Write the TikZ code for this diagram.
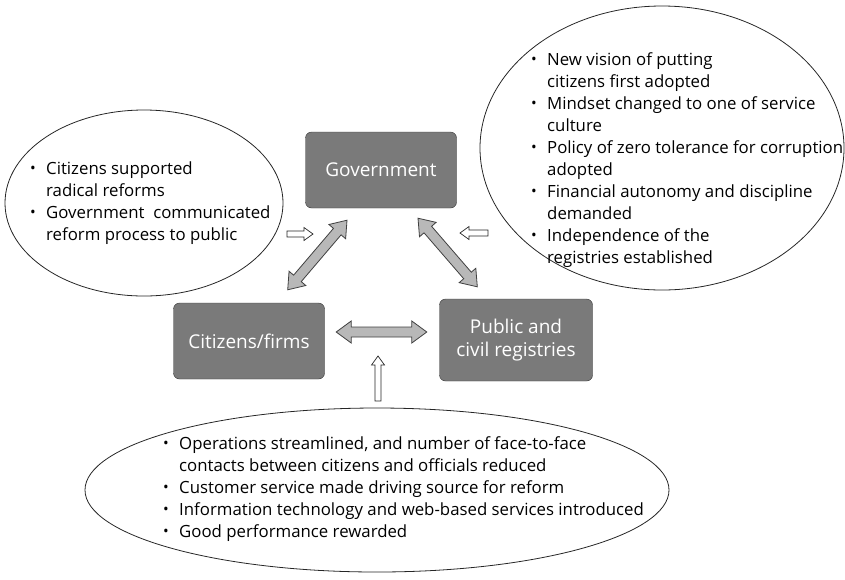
\documentclass[tikz,border=0pt]{standalone}
\usepackage{fontspec}
\setmainfont{Open Sans}
\usetikzlibrary{calc,shapes.geometric}
\tikzset{agent/.style={draw=black!80, fill=black!52, rounded corners=6pt, text=white,
    align=center, font=\fontsize{19}{23}\selectfont,
    minimum width=151pt, minimum height=76pt, inner sep=0pt},
  bubble/.style={draw=black!85, line width=0.8pt, ellipse, inner sep=0pt},
  notes/.style={align=left, anchor=west, inner sep=0pt, font=\fontsize{16.8}{22}\selectfont},
  twoway/.style={draw=black!75, fill=black!28, line width=0.8pt},
  oneway/.style={draw=black!85, fill=white, line width=0.7pt}}
\newcommand*{\bul}{\makebox[16pt][l]{\raisebox{0.5pt}{\scalebox{0.9}{\textbullet}}}}
\newcommand*{\ind}{\hspace*{16pt}}
\newcommand*{\biarrow}[2]{%
  \coordinate (#1h) at ($(#1)!15pt!(#2)$);
  \coordinate (#2h) at ($(#2)!15pt!(#1)$);
  \filldraw[twoway] (#1) -- ($(#1h)!11pt!90:(#2)$) -- ($(#1h)!5pt!90:(#2)$)
    -- ($(#2h)!5pt!-90:(#1)$) -- ($(#2h)!11pt!-90:(#1)$) -- (#2)
    -- ($(#2h)!11pt!90:(#1)$) -- ($(#2h)!5pt!90:(#1)$)
    -- ($(#1h)!5pt!-90:(#2)$) -- ($(#1h)!11pt!-90:(#2)$) -- cycle;}
\newcommand*{\hollowarrow}[2]{%
  \coordinate (#2h) at ($(#2)!9pt!(#1)$);
  \filldraw[oneway] ($(#1)!3pt!90:(#2)$) -- ($(#2h)!3pt!-90:(#1)$)
    -- ($(#2h)!6.5pt!-90:(#1)$) -- (#2) -- ($(#2h)!6.5pt!90:(#1)$)
    -- ($(#2h)!3pt!90:(#1)$) -- ($(#1)!3pt!-90:(#2)$) -- cycle;}

\begin{document}
\begin{tikzpicture}[x=1pt,y=-1pt]
\useasboundingbox (0,0) rectangle (845,579);
\node[agent] (gov) at (381,170) {Government};
\node[agent] (cit) at (249,341) {Citizens/firms};
\node[agent, minimum width=153pt, minimum height=82pt] (pub) at (516,340) {Public and\\civil registries};

\node[bubble, minimum width=278pt, minimum height=186pt] (lbub) at (144,203) {};
\node[bubble, minimum width=364pt, minimum height=284pt] (rbub) at (662,148) {};
\node[bubble, minimum width=584pt, minimum height=164pt] (bbub) at (377,490) {};

\node[notes] (lnote) at (30,203) {\bul Citizens supported\\\ind radical reforms\\
  \bul Government\ \ communicated\\\ind reform process to public};
\node[notes] (rnote) at (531,160) {\bul New vision of putting\\\ind citizens first adopted\\
  \bul Mindset changed to one of service\\\ind culture\\
  \bul Policy of zero tolerance for corruption\\\ind adopted\\
  \bul Financial autonomy and discipline\\\ind demanded\\
  \bul Independence of the\\\ind registries established};
\node[notes] (bnote) at (163,489) {\bul Operations streamlined, and number of face-to-face\\
  \ind contacts between citizens and officials reduced\\
  \bul Customer service made driving source for reform\\
  \bul Information technology and web-based services introduced\\
  \bul Good performance rewarded};

\coordinate (gc1) at ([shift={(-34,12)}]gov.south);
\coordinate (gc2) at ([shift={(-37,-13)}]cit.north east);
\coordinate (gp1) at ([shift={(37,10)}]gov.south);
\coordinate (gp2) at ([shift={(38,-12)}]pub.north west);
\coordinate (cp1) at ([shift={(11.5,-9)}]cit.east);
\coordinate (cp2) at ([shift={(-12.5,-8)}]pub.west);
\biarrow{gc1}{gc2}
\biarrow{gp1}{gp2}
\biarrow{cp1}{cp2}

\coordinate (la1) at (287,234);
\coordinate (la2) at (313,234);
\coordinate (ra1) at (488,233);
\coordinate (ra2) at (460,233);
\coordinate (ba1) at (378,401);
\coordinate (ba2) at (378,356);
\hollowarrow{la1}{la2}
\hollowarrow{ra1}{ra2}
\hollowarrow{ba1}{ba2}
\end{tikzpicture}
\end{document}
